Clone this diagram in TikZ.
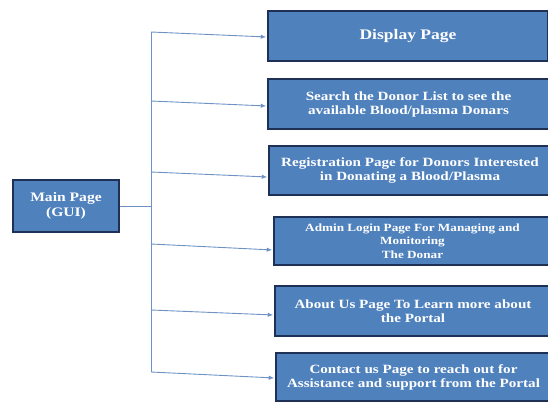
\documentclass[tikz,border=0pt]{standalone}
\usepackage{fontspec}
\setmainfont{Liberation Serif}
\newfontfamily\pagefont[FakeStretch=1.2]{Liberation Serif}
\usetikzlibrary{arrows.meta,positioning,calc}
\definecolor{pgblue}{RGB}{79,129,189}
\definecolor{pgnavy}{RGB}{30,48,86}
\definecolor{pgline}{RGB}{110,145,198}

\begin{document}
\begin{tikzpicture}[x=1pt,y=-1pt,
  page/.style={rectangle,draw=pgnavy,fill=pgblue,line width=2pt,anchor=north west,
    align=center,text=white,inner sep=0pt,font=\pagefont\bfseries\fontsize{12.6}{14}\selectfont},
  link/.style={pgline,line width=0.9pt},
  feed/.style={link,-{Latex[length=5.5pt,width=4.5pt]},shorten >=0.8pt}]
  \useasboundingbox (0,0) rectangle (548,401);
  % main node
  \node[page,minimum width=106pt,minimum height=52pt,
    font=\pagefont\bfseries\fontsize{13}{15.5}\selectfont] (main) at (12,179) {Main Page\\(GUI)};
  % target pages
  \node[page,minimum width=280pt,minimum height=50pt,
    font=\pagefont\bfseries\fontsize{14.6}{16}\selectfont] (disp) at (267,10) {Display Page};
  \node[page,minimum width=281pt,minimum height=50pt] (srch) at (267,78)
    {Search the Donor List to see the\\available Blood/plasma Donars};
  \node[page,minimum width=282pt,minimum height=49pt] (reg) at (268,145)
    {Registration Page for Donors Interested\\in Donating a Blood/Plasma};
  \node[page,minimum width=277pt,minimum height=48pt,
    font=\pagefont\bfseries\fontsize{11}{13.6}\selectfont] (adm) at (273,216)
    {Admin Login Page For Managing and\\Monitoring\\The Donar};
  \node[page,minimum width=276pt,minimum height=50pt] (abt) at (274,285)
    {About Us Page To Learn more about\\the Portal};
  \node[page,minimum width=275pt,minimum height=48pt] (cont) at (275,352)
    {Contact us Page to reach out for\\Assistance and support from the Portal};
  % trunk
  \coordinate (top) at (151,32);
  \coordinate (bot) at (151,372);
  \draw[link] (top) -- (bot);
  \draw[link] (main.east) -- (main.east -| top);
  % branches
  \foreach \n/\y/\off in {disp/32/1,srch/101/2,reg/172/6.5,adm/244/9,abt/310/4,cont/372/1} {
    \coordinate (t-\n) at (151,\y);
    \draw[feed] (t-\n) -- ([yshift=-\off pt]\n.west);
  }
\end{tikzpicture}
\end{document}
